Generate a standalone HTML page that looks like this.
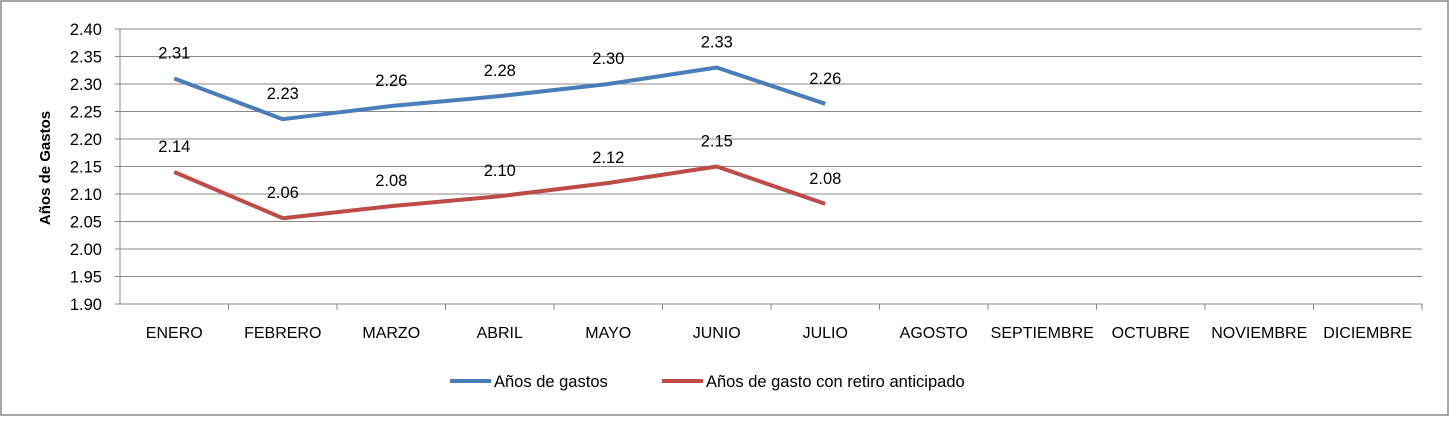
<!DOCTYPE html>
<html><head><meta charset="utf-8"><style>
body{margin:0;background:#fff;}
svg text{font-family:"Liberation Sans",sans-serif;}
</style></head><body>
<svg width="1450" height="417" xmlns="http://www.w3.org/2000/svg">
<rect x="1" y="1" width="1447" height="414" fill="#fff" stroke="#8c8c8c" stroke-width="1.5"/>
<g id="grid"></g><g id="axes"></g><g id="series"></g>
<text transform="translate(50,168) rotate(-90)" text-anchor="middle" font-size="15" font-weight="bold">Años de Gastos</text>
<g>
<line x1="450" y1="381" x2="491" y2="381" stroke="#4a7ebb" stroke-width="4"/>
<text x="494" y="387" font-size="16.5">Años de gastos</text>
<line x1="662" y1="381" x2="703" y2="381" stroke="#be4b48" stroke-width="4"/>
<text x="706" y="387" font-size="16.5">Años de gasto con retiro anticipado</text>
</g>
</svg>
<script>
const categories=["ENERO","FEBRERO","MARZO","ABRIL","MAYO","JUNIO","JULIO","AGOSTO","SEPTIEMBRE","OCTUBRE","NOVIEMBRE","DICIEMBRE"];
const yTicks=["1.90","1.95","2.00","2.05","2.10","2.15","2.20","2.25","2.30","2.35","2.40"];
const gastos=[2.31,2.236,2.26,2.278,2.30,2.33,2.264];
const gastosLabels=["2.31","2.23","2.26","2.28","2.30","2.33","2.26"];
const retiro=[2.14,2.056,2.078,2.096,2.12,2.15,2.082];
const retiroLabels=["2.14","2.06","2.08","2.10","2.12","2.15","2.08"];
const NS="http://www.w3.org/2000/svg";
const L=120,R=1422,T=29,B=304,yMin=1.9,yMax=2.4;
const cw=(R-L)/categories.length;
const xS=i=>L+cw*(i+0.5);
const yS=v=>B-(v-yMin)/(yMax-yMin)*(B-T);
function mk(tag,at,parent){const e=document.createElementNS(NS,tag);for(const k in at)e.setAttribute(k,at[k]);parent.appendChild(e);return e;}
const grid=document.getElementById('grid'),axes=document.getElementById('axes'),ser=document.getElementById('series');
yTicks.forEach(t=>{const y=yS(parseFloat(t));
 const g=mk('line',{x1:L-5,x2:R,y1:y,y2:y,stroke:'#898989','stroke-width':1},grid);
 
 
 const tx=mk('text',{x:L-18,y:y+6,'text-anchor':'end','font-size':16.5},axes);tx.textContent=t;
 
 
});
const ax=mk('line',{x1:L,x2:L,y1:T,y2:B,stroke:'#898989','stroke-width':1},axes);


categories.forEach((c,i)=>{const x=L+cw*(i+1);
 const tk=mk('line',{x1:x,x2:x,y1:B,y2:B+6,stroke:'#898989','stroke-width':1},axes);
 
 
 const tx=mk('text',{x:xS(i),y:B+34,'text-anchor':'middle','font-size':16},axes);tx.textContent=c;
 
 
});
function series(vals,labels,color,name){
 const p=mk('polyline',{points:vals.map((v,i)=>xS(i)+','+yS(v)).join(' '),fill:'none',stroke:color,'stroke-width':4,'stroke-linejoin':'round'},ser);
 
 
 vals.forEach((v,i)=>{const t=mk('text',{x:xS(i),y:yS(v)-20,'text-anchor':'middle','font-size':16.5},ser);t.textContent=labels[i];
  
  });
}
series(gastos,gastosLabels,'#4a7ebb','gastos');
series(retiro,retiroLabels,'#be4b48','retiro');
</script>
</body></html>
